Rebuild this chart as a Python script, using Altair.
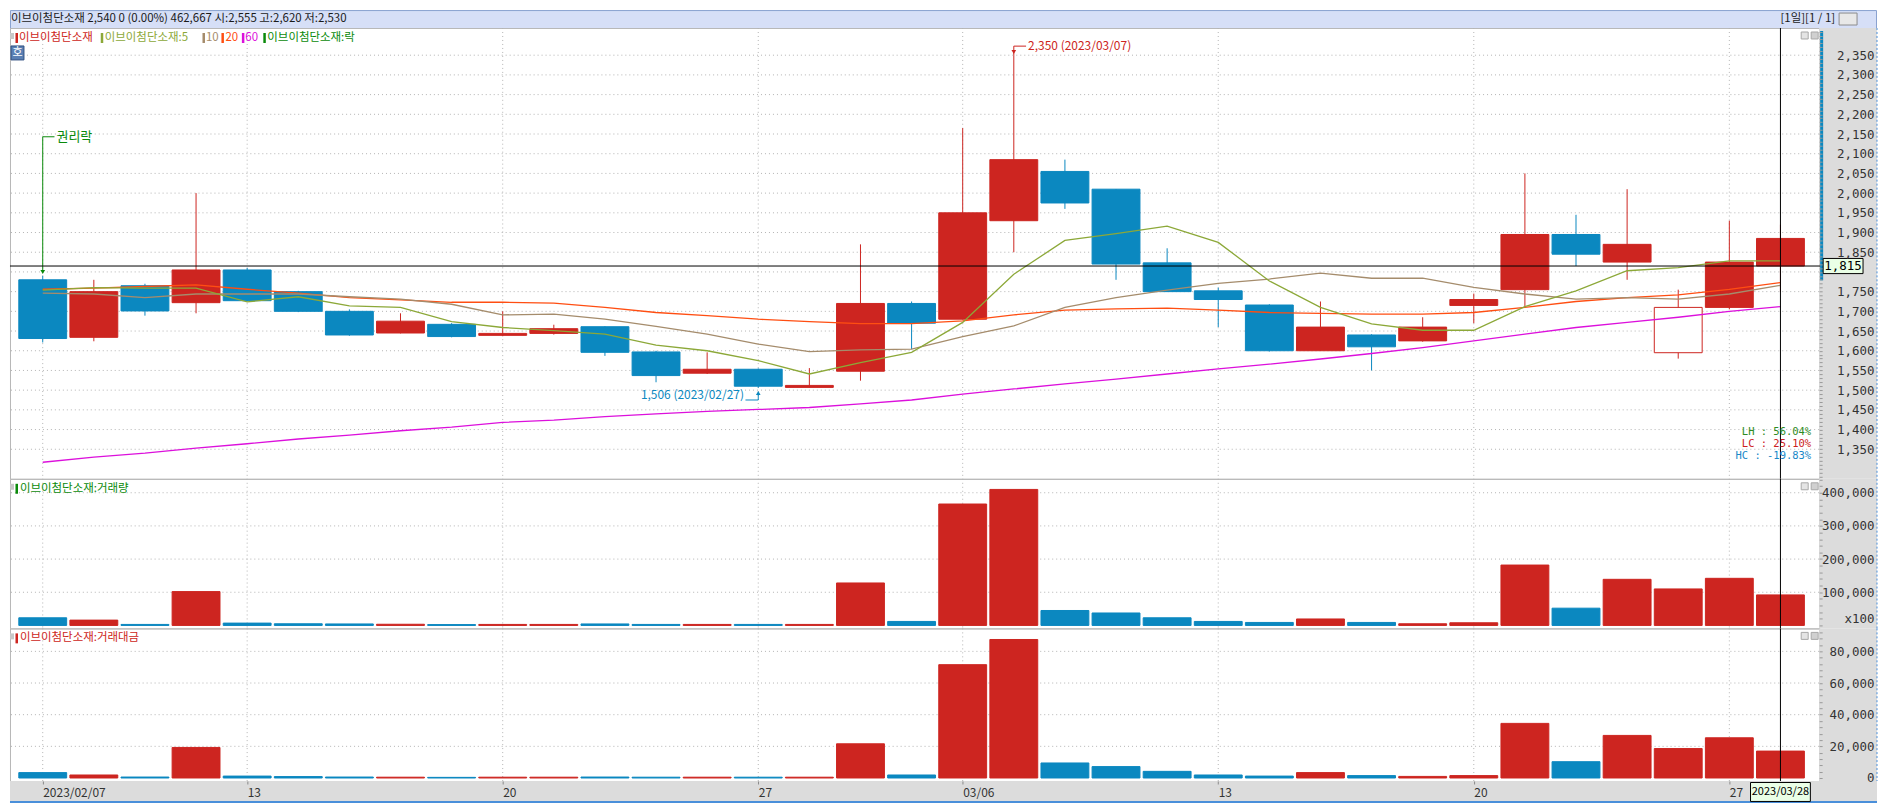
import altair as alt
import pandas as pd

# ---------------- data ----------------
dates = ["2023/02/07", "2023/02/08", "2023/02/09", "2023/02/10", "2023/02/13", "2023/02/14", "2023/02/15",
         "2023/02/16", "2023/02/17", "2023/02/20", "2023/02/21", "2023/02/22", "2023/02/23", "2023/02/24",
         "2023/02/27", "2023/02/28", "2023/03/02", "2023/03/03", "2023/03/06", "2023/03/07", "2023/03/08",
         "2023/03/09", "2023/03/10", "2023/03/13", "2023/03/14", "2023/03/15", "2023/03/16", "2023/03/17",
         "2023/03/20", "2023/03/21", "2023/03/22", "2023/03/23", "2023/03/24", "2023/03/27", "2023/03/28"]
opens = [1780, 1634, 1765, 1722, 1805, 1750, 1700, 1645, 1667, 1639, 1644, 1661, 1597, 1543, 1553, 1507, 1548, 1720,
         1680, 1930, 2055, 2010, 1823, 1752, 1716, 1600, 1640, 1625, 1715, 1755, 1895, 1825, 1595, 1710, 1815]
highs = [1790, 1780, 1770, 2000, 1810, 1752, 1705, 1695, 1670, 1700, 1666, 1662, 1600, 1596, 1555, 1556, 1870, 1725,
         2165, 2350, 2085, 2010, 1860, 1760, 1718, 1725, 1642, 1685, 1745, 2050, 1945, 2010, 1755, 1930, 1920]
lows = [1621, 1624, 1689, 1695, 1725, 1698, 1638, 1644, 1634, 1637, 1641, 1587, 1520, 1541, 1506, 1507, 1524, 1604,
        1680, 1850, 1960, 1780, 1750, 1660, 1598, 1600, 1550, 1623, 1670, 1710, 1815, 1780, 1580, 1705, 1750]
closes = [1631, 1750, 1701, 1805, 1727, 1700, 1640, 1675, 1636, 1644, 1656, 1596, 1537, 1553, 1510, 1512, 1720, 1670,
          1950, 2085, 1975, 1820, 1750, 1730, 1600, 1660, 1610, 1660, 1730, 1895, 1845, 1870, 1710, 1825, 1885]
styles = list("BRBRBBBRBRRBBRBRRBRRBBBBBRBRRRBRHRR")  # B=down(blue) R=up(red) H=hollow red

ma5 = [1754, 1760, 1759, 1759, 1724, 1737, 1714, 1710, 1674, 1659, 1651, 1642, 1614, 1600, 1575, 1541, 1570, 1596,
       1672, 1794, 1880, 1897, 1916, 1875, 1777, 1710, 1668, 1652, 1652, 1712, 1752, 1803, 1811, 1828, 1828]
ma10 = [1746, 1744, 1735, 1744, 1744, 1744, 1737, 1731, 1718, 1691, 1693, 1680, 1662, 1642, 1617, 1598, 1602, 1604,
        1636, 1663, 1710, 1735, 1754, 1771, 1782, 1797, 1784, 1784, 1761, 1744, 1731, 1735, 1731, 1744, 1766]
ma20 = [1756, 1759, 1763, 1767, 1756, 1746, 1735, 1729, 1723, 1723, 1721, 1710, 1697, 1689, 1680, 1674, 1669, 1669,
        1676, 1691, 1703, 1706, 1708, 1703, 1697, 1695, 1693, 1693, 1697, 1710, 1725, 1735, 1742, 1756, 1773]
ma60 = [1317, 1330, 1340, 1353, 1364, 1376, 1386, 1397, 1406, 1418, 1424, 1433, 1440, 1446, 1451, 1456, 1465, 1475,
        1490, 1503, 1516, 1528, 1541, 1554, 1566, 1579, 1593, 1608, 1625, 1642, 1659, 1672, 1685, 1700, 1712]

volumes = [23000, 16000, 3000, 102000, 7000, 5000, 4500, 3500, 2500, 3000, 3000, 4500, 3000, 3000, 3000, 3000,
           128000, 12000, 366000, 410000, 45000, 37500, 23000, 12000, 9000, 19500, 9000, 5000, 8000, 182000,
           52000, 139000, 110000, 142000, 92000]
amounts = [3400, 1900, 600, 19300, 1200, 900, 600, 500, 400, 500, 500, 600, 500, 500, 500, 500, 21600, 1900,
           71600, 87500, 9500, 7200, 4200, 1900, 1200, 3400, 1500, 1000, 1500, 34500, 10300, 26900, 18600,
           25400, 17000]

tick_idx = [0, 4, 9, 14, 18, 23, 28, 33]
tick_lbl = ["2023/02/07", "13", "20", "27", "03/06", "13", "20", "27"]

header_text = "이브이첨단소재   2,540   0 (0.00%)   462,667  시:2,555  고:2,620  저:2,530"
header_right = "[1일][1 / 1]"
legend_texts = ["이브이첨단소재", "이브이첨단소재:5", "10", "20", "60", "이브이첨단소재:락"]
vol_title = "이브이첨단소재:거래량"
amt_title = "이브이첨단소재:거래대금"
stat_texts = ["LH :  56.04%", "LC :  25.10%", "HC : -19.83%"]
hi_text = "2,350 (2023/03/07)"
lo_text = "1,506 (2023/02/27)"
ex_text = "권리락"
cross_price = 1815
cross_price_text = "1,815"
cross_date_text = "2023/03/28"

# ---------------- style ----------------
FONT = "Noto Sans CJK KR"
AXFONT = "DejaVu Sans Mono"
W = 1814
STRIP = 58
H_HEAD = 18
H_P = 452
H_V = 150
H_A = 153
RED = "#CD2520"
BLUE = "#0B88C0"
GRID = "#B4B4B4"
C5, C10, C20, C60 = "#8CA838", "#A58C6C", "#FF4E12", "#DC10DC"
GREEN = "#0A8A0A"

n = len(dates)
cand = pd.DataFrame(dict(idx=list(range(n)), date=dates, open=opens, high=highs, low=lows, close=closes,
                         style=styles, vol=volumes, amt=amounts))
cand["line"] = [BLUE if s == "B" else RED for s in styles]
cand["fill"] = [BLUE if s == "B" else ("#FFFFFF" if s == "H" else RED) for s in styles]

xs = alt.Scale(domain=[-0.543, 34.66], nice=False, zero=False)
ys_p = alt.Scale(domain=[1275, 2419], nice=False, zero=False)
ys_v = alt.Scale(domain=[-9000, 442000], nice=False, zero=False)
ys_a = alt.Scale(domain=[-1900, 94500], nice=False, zero=False)
one = pd.DataFrame({"k": [0]})


def right_axis(values, expr):
    return alt.Axis(orient="right", values=values, labelExpr=expr, labelOverlap=False, grid=False, domain=False,
                    tickColor="#9A9A9A", tickSize=3, labelAlign="right", labelBaseline="middle", labelPadding=52,
                    labelColor="#333333", labelFontSize=12.5, labelFont=AXFONT, title=None, zindex=1,
                    labelFlush=False)


price_axis = right_axis(
    list(range(1280, 2411, 10)),
    "datum.value % 50 == 0 && datum.value >= 1350 && datum.value <= 2350 && datum.value != 1800"
    " ? format(datum.value, ',') : ''")
vol_axis = right_axis(
    list(range(0, 440001, 20000)),
    "datum.value == 20000 ? 'x100' : (datum.value > 0 && datum.value % 100000 == 0 ? format(datum.value, ',') : '')")
amt_axis = right_axis(list(range(0, 92001, 4000)),
                      "datum.value % 20000 == 0 ? format(datum.value, ',') : ''")
date_axis = alt.Axis(
    values=tick_idx,
    labelExpr="[" + ",".join("'%s'" % t for t in tick_lbl) + "][indexof([" + ",".join(str(i) for i in tick_idx)
              + "], datum.value)]",
    labelAlign="left", labelBaseline="middle", labelPadding=9, tickSize=3,
    tickColor="#8A8A8A", domain=False, grid=False, labelFontSize=12, labelColor="#333333",
    title=None, zindex=1, labelOverlap=False, labelFlush=False)

# every layer sharing a scale gets the same axis object so the merged axis stays enabled
PANEL = {"p": (ys_p, price_axis), "v": (ys_v, vol_axis), "a": (ys_a, amt_axis)}


def XE(panel, field="idx"):
    return alt.X(f"{field}:Q", scale=xs, axis=date_axis if panel == "a" else None)


def YE(panel, field):
    sc, ax = PANEL[panel]
    return alt.Y(f"{field}:Q", scale=sc, axis=ax)


def strip(h):
    return alt.Chart(one).mark_rect(fill="#DCDCDC").encode(
        x=alt.value(W), x2=alt.value(W + STRIP), y=alt.value(0), y2=alt.value(h))


def edge(h):
    return alt.Chart(one).mark_rule(color="#4A8FDA", strokeDash=[2, 2], strokeWidth=1).encode(
        x=alt.value(W + STRIP), y=alt.value(0), y2=alt.value(h))


def vgrid(panel):
    return alt.Chart(pd.DataFrame({"idx": tick_idx})).mark_rule(color=GRID, strokeDash=[1, 3]).encode(
        x=XE(panel))


def hgrid(panel, values):
    return alt.Chart(pd.DataFrame({"v": values})).mark_rule(color=GRID, strokeDash=[1, 3]).encode(
        y=YE(panel, "v"))


def vcross(panel):
    return alt.Chart(pd.DataFrame({"idx": [n - 1]})).mark_rule(color="black", strokeWidth=1).encode(
        x=XE(panel))


def icons():
    a = alt.Chart(one).mark_rect(fill="#E4E4E4", stroke="#A8A8A8", strokeWidth=1).encode(
        x=alt.value(1796), x2=alt.value(1803), y=alt.value(4), y2=alt.value(11))
    b = alt.Chart(one).mark_rect(fill="#D0D0D0", stroke="#A8A8A8", strokeWidth=1).encode(
        x=alt.value(1806), x2=alt.value(1813), y=alt.value(4), y2=alt.value(11))
    return a + b


def panel_title(text, col):
    d = pd.DataFrame({"t": [text]})
    sq = alt.Chart(one).mark_rect(fill="#C8C8C8").encode(
        x=alt.value(0), x2=alt.value(4), y=alt.value(5), y2=alt.value(11))
    bar = alt.Chart(one).mark_rect(fill=col).encode(
        x=alt.value(5.5), x2=alt.value(8), y=alt.value(5), y2=alt.value(15))
    txt = alt.Chart(d).mark_text(align="left", baseline="middle", fontSize=11.5, color=col).encode(
        x=alt.value(10), y=alt.value(10), text="t:N")
    return sq + bar + txt


# ---------------- header ----------------
head_df = pd.DataFrame({"t": [header_text]})
headr_df = pd.DataFrame({"t": [header_right]})
header = alt.layer(
    alt.Chart(head_df).mark_text(align="left", baseline="middle", fontSize=11.5, color="#1A1A1A").encode(
        x=alt.value(1), y=alt.value(9), text="t:N"),
    alt.Chart(headr_df).mark_text(align="right", baseline="middle", fontSize=11.5, color="#1A1A1A").encode(
        x=alt.value(1830), y=alt.value(9), text="t:N"),
    alt.Chart(one).mark_rect(fill="#E8E8E8", stroke="#8C8C8C", strokeWidth=1).encode(
        x=alt.value(1834), x2=alt.value(1852), y=alt.value(3), y2=alt.value(15)),
).properties(width=1871, height=H_HEAD, view=alt.ViewBackground(fill="#D6DFF7", stroke="#8AA2D0"))

# ---------------- price panel ----------------
wicks = alt.Chart(cand).mark_rule(strokeWidth=1).encode(
    x=XE("p"), y=YE("p", "low"), y2="high:Q", color=alt.Color("line:N", scale=None))
bodies = alt.Chart(cand).mark_bar(size=48, strokeWidth=1).encode(
    x=XE("p"), y=YE("p", "open"), y2="close:Q",
    fill=alt.Fill("fill:N", scale=None), stroke=alt.Stroke("line:N", scale=None))


def ma_line(vals, col):
    d = pd.DataFrame({"idx": list(range(n)), "v": vals})
    return alt.Chart(d).mark_line(color=col, strokeWidth=1.3).encode(x=XE("p"), y=YE("p", "v"))


lines = ma_line(ma60, C60) + ma_line(ma20, C20) + ma_line(ma10, C10) + ma_line(ma5, C5)


def seg(x1, x2, y1, y2, col):
    d = pd.DataFrame({"x1": [x1], "x2": [x2], "y1": [y1], "y2": [y2]})
    return alt.Chart(d).mark_rule(color=col, strokeWidth=1).encode(
        x=XE("p", "x1"), x2="x2:Q", y=YE("p", "y1"), y2="y2:Q")


def arrow(x, y, shape, col):
    d = pd.DataFrame({"x": [x], "y": [y]})
    return alt.Chart(d).mark_point(shape=shape, filled=True, size=22, color=col, opacity=1).encode(
        x=XE("p", "x"), y=YE("p", "y"))


def label(x, y, t, col, align, size=12):
    d = pd.DataFrame({"x": [x], "y": [y], "t": [t]})
    return alt.Chart(d).mark_text(align=align, baseline="middle", fontSize=size, color=col).encode(
        x=XE("p", "x"), y=YE("p", "y"), text="t:N")


hi_ann = (seg(19, 19, 2350, 2373, RED) + seg(19, 19.24, 2373, 2373, RED) +
          arrow(19, 2358, "triangle-down", RED) + label(19.28, 2373, hi_text, RED, "left"))
lo_ann = (seg(14, 14, 1490, 1475, BLUE) + seg(13.75, 14, 1475, 1475, BLUE) +
          arrow(14, 1493, "triangle-up", BLUE) + label(13.72, 1487, lo_text, BLUE, "right"))
ex_ann = (seg(0, 0, 2143, 1800, GREEN) + seg(0, 0.23, 2143, 2143, GREEN) +
          arrow(0, 1800, "triangle-down", GREEN) + label(0.27, 2143, ex_text, GREEN, "left", size=13))

hcross = alt.Chart(pd.DataFrame({"y": [cross_price]})).mark_rule(color="black", strokeWidth=1).encode(
    y=YE("p", "y"), x=alt.value(0), x2=alt.value(1818))
bluebar = alt.Chart(one).mark_rect(fill=BLUE).encode(
    x=alt.value(1815), x2=alt.value(1818), y=alt.value(3), y2=alt.value(253))
pbox_df = pd.DataFrame({"y": [cross_price], "t": [cross_price_text]})
pbox = alt.Chart(pbox_df).mark_point(shape="M-1,-0.38H1V0.38H-1Z", size=40 * 40, filled=True, fill="#EAFFE6",
                                     stroke="black", strokeWidth=1, opacity=1).encode(
    x=alt.value(1838), y=YE("p", "y"))
ptext = alt.Chart(pbox_df).mark_text(fontSize=12.5, color="black", baseline="middle", font=AXFONT).encode(
    x=alt.value(1838), y=YE("p", "y"), text="t:N")

# legend
leg_bar_x = [5.5, 91, 193, 212, 232.5, 254]
leg_txt_x = [9, 95, 196.5, 216, 236, 258]
leg_cols = [RED, C5, C10, C20, C60, GREEN]
leg_df = pd.DataFrame({"x": leg_bar_x, "xt": leg_txt_x, "c": leg_cols, "t": legend_texts})
leg_bars = alt.Chart(leg_df).mark_rect().encode(
    x=alt.X("x:Q", scale=None), x2=alt.X2("x2:Q"), y=alt.value(5), y2=alt.value(15),
    color=alt.Color("c:N", scale=None)).transform_calculate(x2="datum.x + 2.5")
leg_txt = alt.Chart(leg_df).mark_text(align="left", baseline="middle", fontSize=11.5).encode(
    x=alt.X("xt:Q", scale=None), y=alt.value(10), text="t:N", color=alt.Color("c:N", scale=None))
leg_sq = alt.Chart(one).mark_rect(fill="#C8C8C8").encode(
    x=alt.value(0), x2=alt.value(4), y=alt.value(5), y2=alt.value(11))
ho_box = alt.Chart(one).mark_rect(fill="#5A80B4", stroke="#2F4F80", strokeWidth=1).encode(
    x=alt.value(1), x2=alt.value(14), y=alt.value(18), y2=alt.value(32))
ho_txt = alt.Chart(pd.DataFrame({"t": ["호"]})).mark_text(fontSize=11, color="white", baseline="middle").encode(
    x=alt.value(7.5), y=alt.value(25), text="t:N")

stat_df = pd.DataFrame({"t": stat_texts, "y": [405, 417, 429], "c": ["#2E8B22", "#CC2020", "#1A88C8"]})
stats = alt.Chart(stat_df).mark_text(align="right", baseline="middle", fontSize=10.5,
                                     font=AXFONT).encode(
    x=alt.value(1806), y=alt.Y("y:Q", scale=None), text="t:N", color=alt.Color("c:N", scale=None))

price = alt.layer(
    strip(H_P), edge(H_P), hgrid("p", list(range(1350, 2351, 50))), vgrid("p"),
    wicks, bodies, lines, hi_ann, lo_ann, ex_ann, hcross, vcross("p"), bluebar, pbox, ptext,
    leg_sq, leg_bars, leg_txt, ho_box, ho_txt, stats, icons(),
).properties(width=W, height=H_P)

# ---------------- volume panel ----------------
vbars = alt.Chart(cand).mark_bar(size=48, strokeWidth=1).encode(
    x=XE("v"), y=YE("v", "vol"), y2=alt.datum(0),
    fill=alt.Fill("line:N", scale=None), stroke=alt.Stroke("line:N", scale=None))
volume = alt.layer(
    strip(H_V), edge(H_V), hgrid("v", [100000, 200000, 300000, 400000]), vgrid("v"), vbars, vcross("v"),
    panel_title(vol_title, GREEN), icons()
).properties(width=W, height=H_V)

# ---------------- amount panel ----------------
abars = alt.Chart(cand).mark_bar(size=48, strokeWidth=1).encode(
    x=XE("a"), y=YE("a", "amt"), y2=alt.datum(0),
    fill=alt.Fill("line:N", scale=None), stroke=alt.Stroke("line:N", scale=None))
bottom_strip = alt.Chart(one).mark_rect(fill="#DCDCDC").encode(
    x=alt.value(0), x2=alt.value(W + STRIP), y=alt.value(H_A), y2=alt.value(H_A + 21))
bottom_line = alt.Chart(one).mark_rule(color="#4A8FDA", strokeWidth=2).encode(
    x=alt.value(0), x2=alt.value(W + STRIP), y=alt.value(H_A + 21))
dbox_df = pd.DataFrame({"idx": [n - 1], "t": [cross_date_text]})
dbox = alt.Chart(dbox_df).mark_point(shape="M-1,-0.317H1V0.317H-1Z", size=60 * 60, filled=True,
                                     fill="#EAFFE6", stroke="black", strokeWidth=1, opacity=1).encode(
    x=XE("a"), y=alt.value(H_A + 11))
dtext = alt.Chart(dbox_df).mark_text(fontSize=11, color="black", baseline="middle").encode(
    x=XE("a"), y=alt.value(H_A + 11), text="t:N")
amount = alt.layer(
    strip(H_A), edge(H_A), bottom_strip, bottom_line, hgrid("a", [20000, 40000, 60000, 80000]), vgrid("a"),
    abars, vcross("a"), dbox, dtext, panel_title(amt_title, RED), icons()
).properties(width=W, height=H_A)

chart = alt.vconcat(header, price, volume, amount, spacing=0, bounds="flush").properties(
    padding=0
).configure(font=FONT).configure_view(stroke="#B8B8B8", strokeWidth=1)

chart.save("out.html", embed_options={"renderer": "svg", "actions": False})
